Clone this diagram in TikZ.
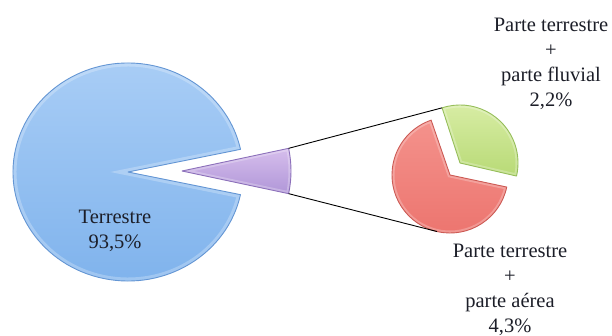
\documentclass[tikz,border=0pt]{standalone}
\usepackage{fontspec}
\setmainfont{Liberation Serif}
\usetikzlibrary{calc}

\definecolor{landtop}{RGB}{170,206,246}
\definecolor{landbot}{RGB}{126,178,236}
\definecolor{landedge}{RGB}{100,150,212}
\definecolor{smalltop}{RGB}{214,190,236}
\definecolor{smallbot}{RGB}{176,150,216}
\definecolor{smalledge}{RGB}{140,112,186}
\definecolor{fluvtop}{RGB}{218,238,168}
\definecolor{fluvbot}{RGB}{184,218,118}
\definecolor{fluvedge}{RGB}{150,190,90}
\definecolor{airtop}{RGB}{244,146,140}
\definecolor{airbot}{RGB}{236,116,110}
\definecolor{airedge}{RGB}{204,90,84}
\definecolor{labeltext}{RGB}{28,30,40}

\tikzset{
  slicebase/.style={line width=0.9pt, line join=round},
  landfill/.style={top color=landtop, bottom color=landbot},
  smallfill/.style={top color=smalltop, bottom color=smallbot},
  fluvfill/.style={top color=fluvtop, bottom color=fluvbot},
  airfill/.style={top color=airtop, bottom color=airbot},
  glow/.style={draw=white, line width=7pt, opacity=0.25},
  leader/.style={draw=black, line width=0.9pt},
  pielabel/.style={align=center, inner sep=0pt, text=labeltext,
    font=\fontsize{20.5}{25}\selectfont}
}

\begin{document}
\begin{tikzpicture}[x=1pt, y=-1pt]
\useasboundingbox (0,0) rectangle (612,336);

% main pie: land share, with the 6.5 % wedge pulled out
\coordinate (landc) at (128,172);
\def\landpath{(landc) -- ++(12:115 and 109) arc[start angle=12, end angle=348, x radius=115, y radius=109] -- cycle}
\shade[landfill] \landpath;
\begin{scope}
  \clip \landpath;
  \draw[glow] \landpath;
\end{scope}
\draw[slicebase, draw=landedge] \landpath;

% pulled-out wedge
\coordinate (smallc) at (182,171);
\def\smallpath{(smallc) -- ++(-12:109 and 109) arc[start angle=-12, end angle=12, x radius=109, y radius=109] -- cycle}
\shade[smallfill] \smallpath;
\begin{scope}
  \clip \smallpath;
  \draw[glow, line width=5pt] \smallpath;
\end{scope}
\draw[slicebase, draw=smalledge] \smallpath;
\coordinate (wedgetop) at ($(smallc)+(-12:109 and 109)$);
\coordinate (wedgebot) at ($(smallc)+(12:109 and 109)$);

% secondary pie: air part
\coordinate (airc) at (450,175);
\def\airpath{(airc) -- ++(12:58) arc[start angle=12, end angle=251, radius=58] -- cycle}
\shade[airfill] \airpath;
\begin{scope}
  \clip \airpath;
  \draw[glow, line width=5pt] \airpath;
\end{scope}
\draw[slicebase, draw=airedge] \airpath;

% secondary pie: fluvial part
\coordinate (fluvc) at (460,163);
\def\fluvpath{(fluvc) -- ++(-108:58) arc[start angle=-108, end angle=13, radius=58] -- cycle}
\shade[fluvfill] \fluvpath;
\begin{scope}
  \clip \fluvpath;
  \draw[glow, line width=5pt] \fluvpath;
\end{scope}
\draw[slicebase, draw=fluvedge] \fluvpath;

\coordinate (subtop) at ($(fluvc)+(-108:58)$);
\coordinate (subbot) at ($(airc)+(103:58)$);

% leader lines from the wedge to the secondary pie
\draw[leader] (wedgetop) -- (subtop);
\draw[leader] (wedgebot) -- (subbot);

% labels
\node[pielabel] (landlbl) at (115,230.5) {Terrestre\\93,5\%};
\node[pielabel] (fluvlbl) at (551,64) {Parte terrestre\\+\\parte fluvial\\2,2\%};
\node[pielabel] (airlbl) at (510,290) {Parte terrestre\\+\\parte aérea\\4,3\%};
\end{tikzpicture}
\end{document}
